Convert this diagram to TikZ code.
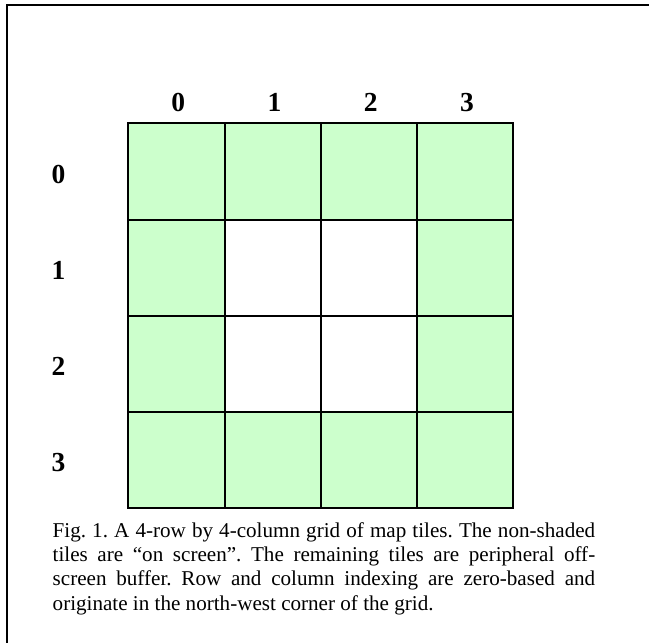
\documentclass[tikz,border=0pt]{standalone}
\usepackage{fontspec}
\setmainfont{Liberation Serif}
\definecolor{tilegreen}{HTML}{CCFFCC}
\begin{document}
\begin{tikzpicture}[x=1pt,y=-1pt,
  tile/.style={draw=black,line width=2pt,minimum width=96.25pt,minimum height=96.25pt,inner sep=0pt,outer sep=0pt},
  buf/.style={tile,fill=tilegreen},
  scr/.style={tile,fill=white},
  idx/.style={font=\fontsize{27.5}{27.5}\selectfont\bfseries,inner sep=0pt,anchor=base},
  captext/.style={font=\fontsize{21.1}{24.3}\selectfont\frenchspacing,inner sep=0pt,anchor=base west}]
\useasboundingbox (0,0) rectangle (649,643);
\fill[white] (0,0) rectangle (649,643);
\draw[line width=2pt] (6.5,643) -- (6.5,5) -- (649,5);
% tiles
\foreach \r in {0,...,3}{
  \foreach \c in {0,...,3}{
    \pgfmathtruncatemacro{\inner}{(\r>0)&&(\r<3)&&(\c>0)&&(\c<3)}
    \ifnum\inner=1
      \node[scr] (t\r\c) at ({128.25+96.25*\c+48.125},{123.25+96.25*\r+48.125}) {};
    \else
      \node[buf] (t\r\c) at ({128.25+96.25*\c+48.125},{123.25+96.25*\r+48.125}) {};
    \fi
  }
}
% column labels
\foreach \c in {0,...,3}{
  \node[idx] (c\c) at ({178.3+96.25*\c},111.5) {\c};
}
% row labels
\foreach \r in {0,...,3}{
  \node[idx] (r\r) at (58.5,{183+96.25*\r}) {\r};
}
% caption
\node[captext] (l1) at (52.5,537) {\makebox[542.5pt][s]{Fig. 1. A 4-row by 4-column grid of map tiles. The non-shaded}};
\node[captext] (l2) at (52.5,561.5) {\makebox[542.5pt][s]{tiles are “on screen”. The remaining tiles are peripheral off-}};
\node[captext] (l3) at (52.5,585.8) {\makebox[542.5pt][s]{screen buffer. Row and column indexing are zero-based and}};
\node[captext] (l4) at (52.5,610) {originate in the north-west corner of the grid.};
\end{tikzpicture}
\end{document}
